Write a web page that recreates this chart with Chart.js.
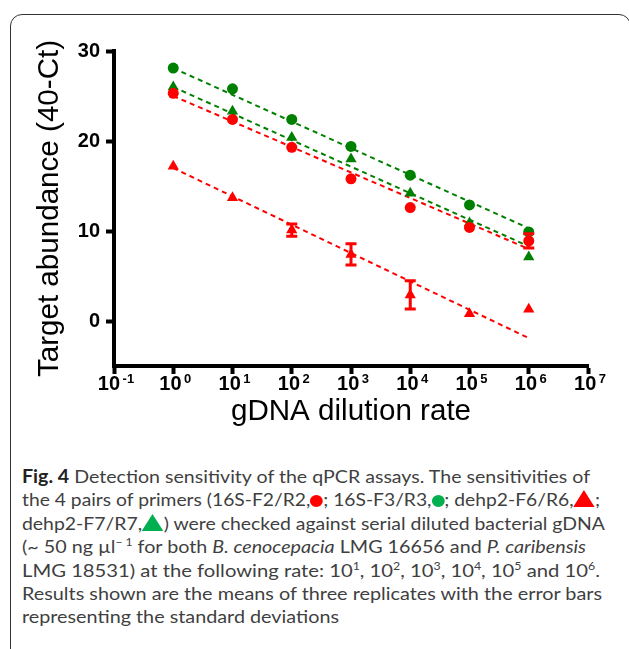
<!DOCTYPE html>
<html>
<head>
<meta charset="utf-8">
<script src="https://cdn.jsdelivr.net/npm/chart.js@4.4.1/dist/chart.umd.min.js"></script>
<style>
  html, body { margin: 0; padding: 0; background: #fff; }
  body { width: 629px; height: 649px; position: relative; overflow: hidden; }
  #frame { position: absolute; left: 10px; top: 14px; width: 621px; height: 720px;
           border: 1.5px solid #333; border-radius: 12px; box-sizing: border-box; }
  #c { position: absolute; left: 0; top: 0; }
  #cap { position: absolute; left: 22px; top: 465px; font-family: Lato, "Open Sans", sans-serif;
         font-size: 18px; line-height: 23.4px; color: #3f3f3f; }
  #cap .ln { white-space: nowrap; transform-origin: 0 50%; display: block; width: max-content; }
  #cap b { color: #222; }
  #cap sup { font-size: 11px; line-height: 0; vertical-align: 7px; }
  .dot { display: inline-block; width: 12px; height: 12px; border-radius: 50%; vertical-align: -1px; }
  .tri { display: inline-block; width: 0; height: 0; border-left: 10px solid transparent;
         border-right: 10px solid transparent; vertical-align: -1px; }
  .dot.r { background: #ff0000; } .dot.g { background: #00b050; }
  .tri.r { border-bottom: 17px solid #ff0000; } .tri.g { border-bottom: 17px solid #00b050; }
</style>
</head>
<body>
<div id="frame"></div>
<canvas id="c" width="629" height="440"></canvas>
<div id="cap">
  <div class="ln"><b>Fig. 4</b> Detection sensitivity of the qPCR assays. The sensitivities of</div>
  <div class="ln">the 4 pairs of primers (16S-F2/R2,<span class="dot r"></span>; 16S-F3/R3,<span class="dot g"></span>; dehp2-F6/R6,<span class="tri r"></span>;</div>
  <div class="ln">dehp2-F7/R7,<span class="tri g"></span>) were checked against serial diluted bacterial gDNA</div>
  <div class="ln">(~ 50 ng µl<sup>− 1</sup> for both <i>B. cenocepacia</i> LMG 16656 and <i>P. caribensis</i></div>
  <div class="ln">LMG 18531) at the following rate: 10<sup>1</sup>, 10<sup>2</sup>, 10<sup>3</sup>, 10<sup>4</sup>, 10<sup>5</sup> and 10<sup>6</sup>.</div>
  <div class="ln">Results shown are the means of three replicates with the error bars</div>
  <div class="ln">representing the standard deviations</div>
</div>
<script>
// ---- data ----
const dilution = [1, 10, 100, 1000, 10000, 100000, 1000000];
const f2r2   = [25.3, 22.4, 19.3, 15.8, 12.6, 10.4, 8.9];   // 16S-F2/R2 (red circles)
const f2r2Sd = [0, 0, 0, 0, 0, 0, 0.8];
const f3r3   = [28.1, 25.8, 22.4, 19.4, 16.2, 12.9, 9.9];   // 16S-F3/R3 (green circles)
const f6r6   = [17.2, 13.7, 10.1, 7.4, 2.9, 0.8, 1.3];      // dehp2-F6/R6 (red triangles)
const f6r6Sd = [0, 0, 0.67, 1.17, 1.56, 0, 0];
const f7r7   = [26.0, 23.3, 20.4, 18.0, 14.2, 10.9, 7.1];   // dehp2-F7/R7 (green triangles)

// regression lines (end points)
const fitX    = [1, 1000000];
const fitF2R2 = [25.0, 8.0];
const fitF3R3 = [28.1, 10.3];
const fitF6R6 = [17.0, -1.9];
const fitF7R7 = [26.0, 8.3];

// tick labels
const xTickExps = [-1, 0, 1, 2, 3, 4, 5, 6, 7];
const xTickBase = '10';
const xTickSup  = ['-1', '0', '1', '2', '3', '4', '5', '6', '7'];
const yTickValues = [0, 10, 20, 30];

const RED = '#ff0000', GREEN = '#008000';
const pts = ys => dilution.map((x, i) => ({ x: x, y: ys[i] }));
const fitPts = ys => fitX.map((x, i) => ({ x: x, y: ys[i] }));

function markers(label, ys, color, style, r) {
  return { label, data: pts(ys), pointStyle: style, pointRadius: r, pointHoverRadius: r,
           backgroundColor: color, borderColor: color, borderWidth: 0, showLine: false };
}
function fit(label, ys, color) {
  return { label, data: fitPts(ys), showLine: true, borderColor: color, borderWidth: 2,
           borderDash: [5, 4], pointRadius: 0, pointHoverRadius: 0, fill: false };
}

const FONT = '"Liberation Sans", Arial, sans-serif';

const errorBars = {
  id: 'errorBars',
  afterDatasetsDraw(chart) {
    const { ctx, scales: { x, y } } = chart;
    const sets = [ { vals: f2r2, sd: f2r2Sd, color: RED }, { vals: f6r6, sd: f6r6Sd, color: RED } ];
    ctx.save();
    ctx.lineWidth = 3;
    sets.forEach(s => {
      ctx.strokeStyle = s.color;
      dilution.forEach((d, i) => {
        if (!s.sd[i]) return;
        const px = x.getPixelForValue(d);
        const top = y.getPixelForValue(s.vals[i] + s.sd[i]);
        const bot = y.getPixelForValue(s.vals[i] - s.sd[i]);
        ctx.beginPath();
        ctx.moveTo(px, top); ctx.lineTo(px, bot);
        ctx.moveTo(px - 5.5, top); ctx.lineTo(px + 5.5, top);
        ctx.moveTo(px - 5.5, bot); ctx.lineTo(px + 5.5, bot);
        ctx.stroke();
      });
    });
    ctx.restore();
  }
};

// x tick labels as 10 with superscript exponent, placed by the x scale
const powerLabels = {
  id: 'powerLabels',
  afterDraw(chart) {
    const { ctx, scales: { x } } = chart;
    const baseY = x.top + 24;
    ctx.save();
    ctx.fillStyle = '#000';
    ctx.textBaseline = 'alphabetic';
    ctx.textAlign = 'left';
    xTickExps.forEach((e, i) => {
      const px = x.getPixelForValue(Math.pow(10, e));
      ctx.font = 'bold 20px ' + FONT;
      const w1 = ctx.measureText(xTickBase).width;
      ctx.font = 'bold 13px ' + FONT;
      const w2 = ctx.measureText(xTickSup[i]).width;
      const gap = 2.5;
      const start = px - (w1 + gap + w2) / 2 + 2;
      ctx.font = 'bold 20px ' + FONT;
      ctx.fillText(xTickBase, start, baseY);
      ctx.font = 'bold 13px ' + FONT;
      ctx.fillText(xTickSup[i], start + w1 + gap, baseY - 7);
    });
    ctx.restore();
  }
};

new Chart(document.getElementById('c'), {
  type: 'scatter',
  data: {
    datasets: [
      markers('16S-F2/R2', f2r2, RED, 'circle', 5.5),
      markers('16S-F3/R3', f3r3, GREEN, 'circle', 5.5),
      markers('dehp2-F6/R6', f6r6, RED, 'triangle', 6.5),
      markers('dehp2-F7/R7', f7r7, GREEN, 'triangle', 6.5),
      fit('fit 16S-F2/R2', fitF2R2, RED),
      fit('fit 16S-F3/R3', fitF3R3, GREEN),
      fit('fit dehp2-F6/R6', fitF6R6, RED),
      fit('fit dehp2-F7/R7', fitF7R7, GREEN)
    ]
  },
  options: {
    responsive: false, animation: false, devicePixelRatio: 1,
    layout: { padding: { top: 51, right: 41, left: 0, bottom: 0 } },
    plugins: { legend: { display: false }, tooltip: { enabled: false } },
    scales: {
      x: {
        type: 'logarithmic', min: 0.1, max: 1e7,
        afterBuildTicks(s) { s.ticks = xTickExps.map(e => ({ value: Math.pow(10, e) })); },
        afterFit(s) { s.height = 74; },
        ticks: { display: false },
        grid: { drawOnChartArea: false, drawTicks: true, tickLength: 8, tickWidth: 4, tickColor: '#000' },
        border: { display: true, width: 4, color: '#000' },
        title: { display: true, text: 'gDNA dilution rate', color: '#000',
                 font: { family: FONT, size: 29.6 }, padding: { top: 0, bottom: 10 } }
      },
      y: {
        min: -5, max: 30,
        afterBuildTicks(s) { s.ticks = yTickValues.map(v => ({ value: v })); },
        afterFit(s) { s.width = 114; },
        ticks: { padding: 6, color: '#000', font: { family: FONT, size: 20, weight: 'bold' } },
        grid: { drawOnChartArea: false, drawTicks: true, tickLength: 8, tickWidth: 4, tickColor: '#000' },
        border: { display: true, width: 4, color: '#000' },
        title: { display: true, text: 'Target abundance (40-Ct)', color: '#000',
                 font: { family: FONT, size: 29.6 }, padding: { top: 32, bottom: 0 } }
      }
    }
  },
  plugins: [errorBars, powerLabels]
});

// fit caption lines to the widths seen in the figure
const capRight = [590, 600, 605, 586, 600, 602, 339];
document.querySelectorAll('#cap .ln').forEach((el, i) => {
  const w = el.getBoundingClientRect().width;
  el.style.transform = 'scaleX(' + ((capRight[i] - 22) / w).toFixed(4) + ')';
});
</script>
</body>
</html>
